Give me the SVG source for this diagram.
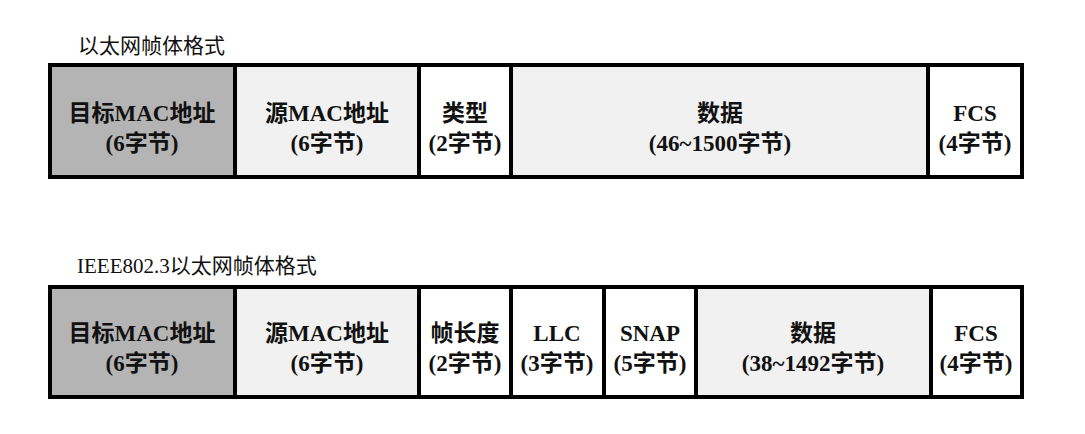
<svg xmlns="http://www.w3.org/2000/svg" width="1085" height="434" viewBox="0 0 1085 434">
<style>
text{font-family:"Liberation Serif","Noto Sans CJK SC",serif;font-size:23px;font-weight:bold;fill:#111;text-anchor:middle}
.t{font-size:21px;font-weight:normal;text-anchor:start}
.c{stroke:#000;stroke-width:4}
.d{fill:#b4b4b4}.l{fill:#f1f1f1}.w{fill:#fff}
</style>
<rect width="1085" height="434" fill="#fff"/>
<text class="t" x="78" y="53">以太网帧体格式</text>
<g id="row1">
<g id="r1-dst"><rect class="c d" x="50" y="65" width="185" height="112"/><text x="142" y="121">目标MAC地址</text><text x="142" y="151">(6字节)</text></g>
<g id="r1-src"><rect class="c l" x="235" y="65" width="184" height="112"/><text x="327" y="121">源MAC地址</text><text x="327" y="151">(6字节)</text></g>
<g id="r1-type"><rect class="c w" x="419" y="65" width="92" height="112"/><text x="465" y="121">类型</text><text x="465" y="151">(2字节)</text></g>
<g id="r1-data"><rect class="c l" x="511" y="65" width="417" height="112"/><text x="720" y="121">数据</text><text x="720" y="151">(46~1500字节)</text></g>
<g id="r1-fcs"><rect class="c w" x="928" y="65" width="94" height="112"/><text x="975" y="121">FCS</text><text x="975" y="151">(4字节)</text></g>
</g>
<text class="t" x="77" y="273">IEEE802.3以太网帧体格式</text>
<g id="row2">
<g id="r2-dst"><rect class="c d" x="50" y="287" width="185" height="110"/><text x="142" y="341">目标MAC地址</text><text x="142" y="371">(6字节)</text></g>
<g id="r2-src"><rect class="c l" x="235" y="287" width="184" height="110"/><text x="327" y="341">源MAC地址</text><text x="327" y="371">(6字节)</text></g>
<g id="r2-len"><rect class="c w" x="419" y="287" width="92" height="110"/><text x="465" y="341">帧长度</text><text x="465" y="371">(2字节)</text></g>
<g id="r2-llc"><rect class="c w" x="511" y="287" width="93" height="110"/><text x="557" y="341">LLC</text><text x="557" y="371">(3字节)</text></g>
<g id="r2-snap"><rect class="c w" x="604" y="287" width="92" height="110"/><text x="650" y="341">SNAP</text><text x="650" y="371">(5字节)</text></g>
<g id="r2-data"><rect class="c l" x="696" y="287" width="235" height="110"/><text x="813" y="341">数据</text><text x="813" y="371">(38~1492字节)</text></g>
<g id="r2-fcs"><rect class="c w" x="931" y="287" width="91" height="110"/><text x="976" y="341">FCS</text><text x="976" y="371">(4字节)</text></g>
</g>
<g id="connectors"/>
</svg>
